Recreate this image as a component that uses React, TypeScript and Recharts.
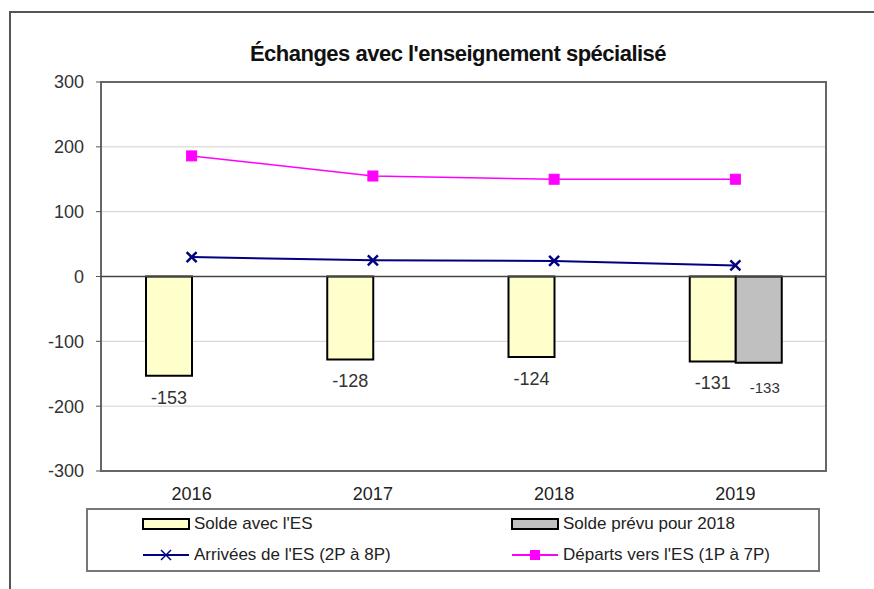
import React from 'react';
import {
  ComposedChart, Bar, Line, XAxis, YAxis, CartesianGrid, ReferenceLine, ReferenceArea, LabelList,
} from 'recharts';

const years = ['2016', '2017', '2018', '2019'];
const soldeES = [-153, -128, -124, -131];
const soldePrevu = [null, null, null, -133];
const arrivees = [30, 25, 24, 17];
const departs = [186, 155, 150, 150];
const yTicks = [-300, -200, -100, 0, 100, 200, 300];

const title = "Échanges avec l'enseignement spécialisé";
const legendLabels = {
  solde: "Solde avec l'ES",
  prevu: 'Solde prévu pour 2018',
  arrivees: "Arrivées de l'ES (2P à 8P)",
  departs: "Départs vers l'ES (1P à 7P)",
};

const data = years.map((y, i) => ({
  year: y,
  solde: soldeES[i],
  prevu: soldePrevu[i],
  arrivees: arrivees[i],
  departs: departs[i],
}));

const FONT = 'Arial, "Liberation Sans", sans-serif';

const SquareDot = (props: any) => {
  const { cx, cy } = props;
  if (cx == null || cy == null) return null;
  return <rect x={cx - 5} y={cy - 5} width={10} height={10} fill="#FF00FF" stroke="#FF00FF" />;
};

const CrossDot = (props: any) => {
  const { cx, cy } = props;
  if (cx == null || cy == null) return null;
  const s = 5;
  return (
    <g stroke="#000080" strokeWidth={2.5}>
      <line x1={cx - s} y1={cy - s} x2={cx + s} y2={cy + s} />
      <line x1={cx - s} y1={cy + s} x2={cx + s} y2={cy - s} />
    </g>
  );
};

const makeLabel = (fontSize: number, dy: number, dx: number) => (props: any) => {
  const { x, y, width, height, value } = props;
  if (value == null) return null;
  const bottom = Math.max(y, y + height);
  return (
    <text x={x + width / 2 + dx} y={bottom + dy} textAnchor="middle" dominantBaseline="central"
      fontSize={fontSize} fill="#333" fontFamily={FONT}>
      {value}
    </text>
  );
};

const LegendBox = () => {
  const item = (left: number, top: number, icon: React.ReactNode, text: string) => (
    <div style={{ position: 'absolute', left, top, display: 'flex', alignItems: 'center', height: 20 }}>
      <svg width={50} height={20} style={{ display: 'block' }}>{icon}</svg>
      <span style={{ fontSize: 17, fontFamily: FONT, color: '#222', marginLeft: 3, whiteSpace: 'nowrap' }}>{text}</span>
    </div>
  );
  return (
    <div style={{
      position: 'absolute', left: 86, top: 508, width: 730, height: 60,
      border: '2px solid #777', background: '#fff',
    }}>
      {item(53, 4, <rect x={2} y={5} width={46} height={10} fill="#FFFFCC" stroke="#000" strokeWidth={2} />, legendLabels.solde)}
      {item(422, 4, <rect x={2} y={5} width={46} height={10} fill="#C0C0C0" stroke="#000" strokeWidth={2} />, legendLabels.prevu)}
      {item(53, 35, <g>
        <line x1={2} y1={10} x2={48} y2={10} stroke="#000080" strokeWidth={2} />
        <line x1={20} y1={5} x2={30} y2={15} stroke="#000080" strokeWidth={1.5} />
        <line x1={20} y1={15} x2={30} y2={5} stroke="#000080" strokeWidth={1.5} />
      </g>, legendLabels.arrivees)}
      {item(422, 35, <g>
        <line x1={2} y1={10} x2={48} y2={10} stroke="#FF00FF" strokeWidth={2} />
        <rect x={20} y={5} width={10} height={10} fill="#FF00FF" />
      </g>, legendLabels.departs)}
    </div>
  );
};

export default function App() {
  return (
    <div style={{ position: 'absolute', left: 0, top: 0, width: 874, height: 589, overflow: 'hidden', background: '#fff' }}>
      <div style={{
        position: 'absolute', left: 9, top: 11, width: 900, height: 620,
        borderLeft: '2px solid #555', borderTop: '2px solid #555',
      }} />
      <div style={{
        position: 'absolute', left: 0, top: 41, width: 916, textAlign: 'center',
        fontFamily: FONT, fontWeight: 'bold', fontSize: 22, color: '#111', letterSpacing: -0.5, whiteSpace: 'nowrap',
      }}>{title}</div>
      <div style={{ position: 'absolute', left: 0, top: 0 }}>
        <ComposedChart width={874} height={589} data={data}
          margin={{ top: 82, right: 48, left: 21, bottom: 88 }} barGap={0} barSize={46}>
          <CartesianGrid vertical={false} stroke="#d0d0d0" strokeWidth={1} />
          <XAxis dataKey="year" axisLine={false} tickLine={false} height={30} tickMargin={10}
            tick={{ fill: '#222', fontSize: 18, fontFamily: FONT }} />
          <YAxis domain={[-300, 300]} ticks={yTicks} width={80} axisLine={false}
            tickLine={{ stroke: '#555' }} tickSize={5} tickMargin={12}
            tick={{ fill: '#333', fontSize: 18, fontFamily: FONT }} interval={0} />
          <ReferenceArea y1={-300} y2={300} fill="none" stroke="#666" strokeWidth={2} ifOverflow="visible" />
          <ReferenceLine y={0} stroke="#444" strokeWidth={1.5} />
          <Bar dataKey="solde" fill="#FFFFCC" stroke="#000" strokeWidth={2} isAnimationActive={false}>
            <LabelList dataKey="solde" content={makeLabel(18, 22, 0)} />
          </Bar>
          <Bar dataKey="prevu" fill="#C0C0C0" stroke="#000" strokeWidth={2} isAnimationActive={false}>
            <LabelList dataKey="prevu" content={makeLabel(15, 25, 6)} />
          </Bar>
          <Line dataKey="arrivees" type="linear" stroke="#000080" strokeWidth={2} dot={<CrossDot />}
            activeDot={false} isAnimationActive={false} />
          <Line dataKey="departs" type="linear" stroke="#FF00FF" strokeWidth={1.5} dot={<SquareDot />}
            activeDot={false} isAnimationActive={false} />
        </ComposedChart>
      </div>
      <LegendBox />
    </div>
  );
}
